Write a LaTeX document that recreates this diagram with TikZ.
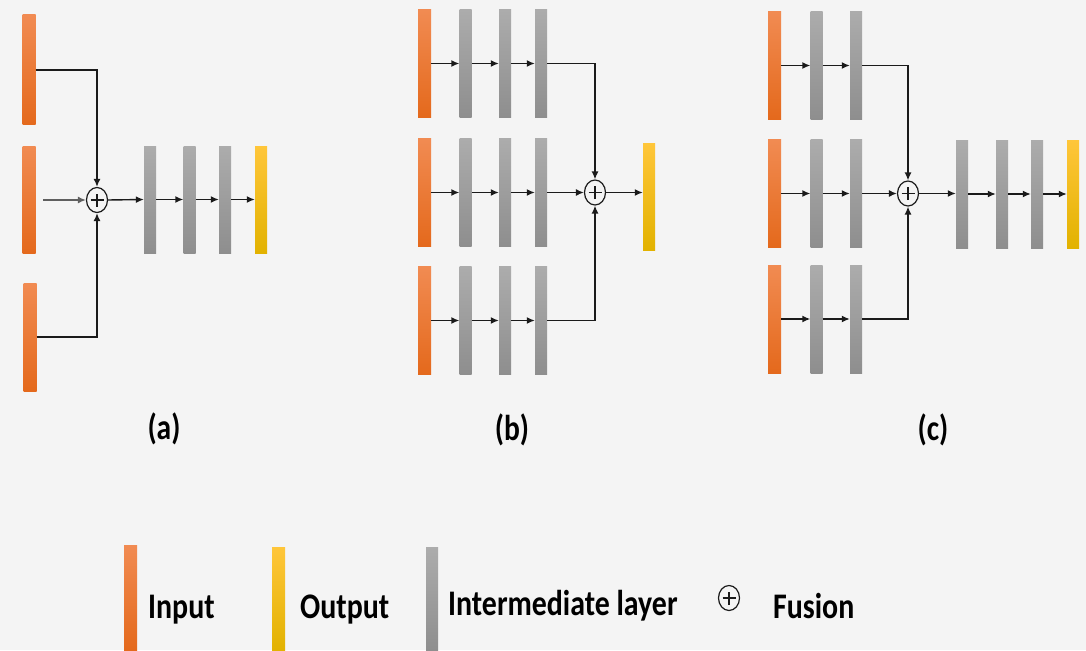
\documentclass[tikz,border=0pt]{standalone}
\usepackage{fontspec}
\setmainfont{Carlito}
\usetikzlibrary{arrows.meta,shapes.geometric}
\definecolor{bg}{HTML}{F4F4F4}
\definecolor{inT}{HTML}{F18B52}
\definecolor{inM}{HTML}{F27A2A}
\definecolor{inB}{HTML}{E4691C}
\definecolor{grT}{HTML}{ACACAC}
\definecolor{grB}{HTML}{8E8E8E}
\definecolor{ouT}{HTML}{FFC63A}
\definecolor{ouM}{HTML}{FFC800}
\definecolor{ouB}{HTML}{E2B200}
\definecolor{ln}{HTML}{1A1A1A}
\tikzset{
  barbase/.style={rectangle, inner sep=0pt, draw=none, minimum width=12pt, minimum height=108pt},
  inbar/.style={barbase, minimum width=13pt, top color=inT, middle color=inM, bottom color=inB},
  grbar/.style={barbase, top color=grT, bottom color=grB},
  outbar/.style={barbase, top color=ouT, middle color=ouM, bottom color=ouB},
  fus/.style={ellipse, draw=ln, line width=1.2pt, inner sep=0pt, minimum width=21pt, minimum height=25pt, fill=bg,
    path picture={\draw[ln, line width=1.6pt] ([xshift=-6.5pt]path picture bounding box.center) -- ([xshift=6.5pt]path picture bounding box.center);
                  \draw[ln, line width=1.6pt] ([yshift=-6.5pt]path picture bounding box.center) -- ([yshift=6.5pt]path picture bounding box.center);}},
  conn/.style={draw=ln, line width=1.4pt},
  arr/.style={conn, -{Latex[length=8pt,width=7pt]}},
  lbl/.style={inner sep=0pt, font=\fontsize{36}{43}\selectfont\bfseries},
}
\begin{document}
\begin{tikzpicture}[x=1pt,y=-1pt]
\useasboundingbox[fill=bg] (0,0) rectangle (1086,650);

% ---------------- (a) ----------------
\node[inbar, minimum height=110pt] (a1) at (29,70) {};
\node[inbar, minimum height=107pt] (a2) at (29,199.5) {};
\node[inbar, minimum height=108pt] (a3) at (30,337) {};
\node[fus] (fa) at (97,200) {};
\coordinate (a2s) at (43,200);
\node[grbar, minimum height=107pt] (ag1) at (150,199.5) {};
\node[grbar, minimum height=107pt] (ag2) at (189.5,199.5) {};
\node[grbar, minimum height=107pt] (ag3) at (225,199.5) {};
\node[outbar, minimum height=107pt] (ao) at (261,199.5) {};
\draw[arr] (a1.east) -| (fa.north);
\draw[arr] (a3.east) -| (fa.south);
\draw[arr, draw=ln!70] (a2s) -- (fa.west);
\draw[arr] (fa.east) -- (ag1.west);
\draw[arr] (ag1.east) -- (ag2.west);
\draw[arr] (ag2.east) -- (ag3.west);
\draw[arr] (ag3.east) -- (ao.west);
\node[lbl] (la) at (164,429) {\scalebox{0.82}[1]{(a)}};

% ---------------- (b) ----------------
\foreach \r/\y in {1/63.5, 2/192.5, 3/320.5}{
  \node[inbar] (b\r0) at (424.5,\y) {};
  \node[grbar] (b\r1) at (465.5,\y) {};
  \node[grbar] (b\r2) at (505,\y) {};
  \node[grbar] (b\r3) at (541,\y) {};
  \draw[arr] (b\r0.east) -- (b\r1.west);
  \draw[arr] (b\r1.east) -- (b\r2.west);
  \draw[arr] (b\r2.east) -- (b\r3.west);
}
\node[fus] (fb) at (595,192.5) {};
\node[outbar, minimum height=107pt] (bo) at (649,196.5) {};
\draw[arr] (b13.east) -| (fb.north);
\draw[arr] (b23.east) -- (fb.west);
\draw[arr] (b33.east) -| (fb.south);
\draw[arr] (fb.east) -- (bo.west |- fb.east);
\node[lbl] (lb) at (512,430) {\scalebox{0.82}[1]{(b)}};

% ---------------- (c) ----------------
\foreach \r/\y in {1/65.5, 2/193.5, 3/319}{
  \node[inbar] (c\r0) at (774.5,\y) {};
  \node[grbar] (c\r1) at (816.5,\y) {};
  \node[grbar] (c\r2) at (856,\y) {};
  \draw[arr] (c\r0.east) -- (c\r1.west);
  \draw[arr] (c\r1.east) -- (c\r2.west);
}
\node[fus] (fc) at (908,193.5) {};
\node[grbar] (cg1) at (962,194) {};
\node[grbar] (cg2) at (1002,194) {};
\node[grbar] (cg3) at (1037,194) {};
\node[outbar] (co) at (1073,194) {};
\draw[arr] (c12.east) -| (fc.north);
\draw[arr] (c22.east) -- (fc.west);
\draw[arr] (c32.east) -| (fc.south);
\draw[arr] (fc.east) -- (cg1.west |- fc.east);
\draw[arr] (cg1.east) -- (cg2.west);
\draw[arr] (cg2.east) -- (cg3.west);
\draw[arr] (cg3.east) -- (co.west);
\node[lbl] (lc) at (933,430) {\scalebox{0.82}[1]{(c)}};

% ---------------- legend ----------------
\node[inbar, minimum height=105pt, anchor=north west] (li) at (124,545) {};
\node[outbar, minimum width=13pt, minimum height=103pt, anchor=north west] (lo) at (272,547) {};
\node[grbar, minimum height=103pt, anchor=north west] (lg) at (426,547) {};
\node[fus] (lf) at (729,598) {};
\node[lbl, anchor=base west] (ti) at (148,618) {\scalebox{0.83}[1]{Input}};
\node[lbl, anchor=base west] (to) at (300,618) {\scalebox{0.83}[1]{Output}};
\node[lbl, anchor=base west] (tg) at (448,615) {\scalebox{0.83}[1]{Intermediate layer}};
\node[lbl, anchor=base west] (tf) at (773,618) {\scalebox{0.83}[1]{Fusion}};
\end{tikzpicture}
\end{document}
